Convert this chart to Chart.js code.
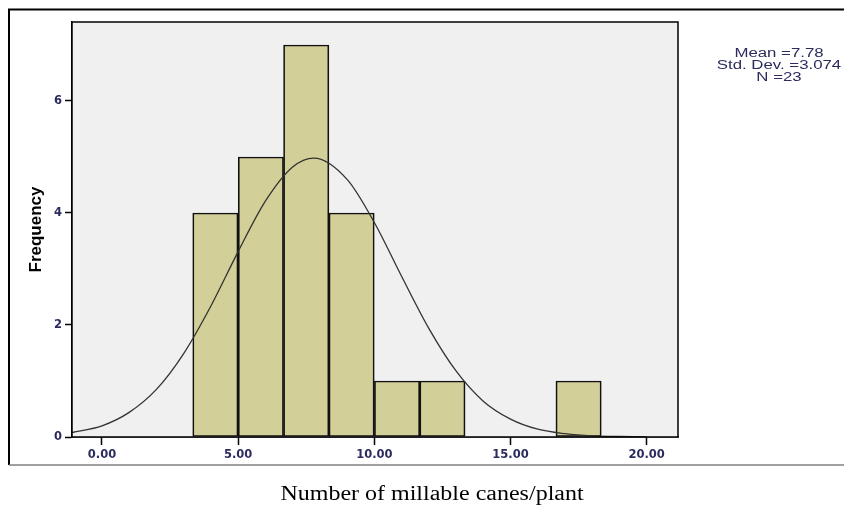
<!DOCTYPE html>
<html>
<head>
<meta charset="utf-8">
<script src="https://cdn.jsdelivr.net/npm/chart.js@4/dist/chart.umd.min.js"></script>
<style>
  html, body { margin: 0; padding: 0; background: #fff; }
  #wrap { width: 844px; height: 508px; position: relative; }
</style>
</head>
<body>
<div id="wrap"><canvas id="histChart"></canvas></div>
<script>
// Histogram bins (edges) and counts
const binEdges = [3.33, 5.00, 6.67, 8.33, 10.00, 11.67, 13.33, 15.00, 16.67, 18.33];
const binCounts = [4, 5, 7, 4, 1, 1, 0, 0, 1];

// Normal curve
const curveX = [-1.1, 0, 1, 2, 3, 4, 5, 6, 7, 7.78, 9, 10, 11, 12, 13, 14, 15, 16, 17, 18, 19, 20];
const curveY = [0.08, 0.20, 0.44, 0.85, 1.49, 2.34, 3.31, 4.21, 4.82, 4.98, 4.60, 3.83, 2.87, 1.94, 1.18, 0.64, 0.32, 0.14, 0.06, 0.02, 0.01, 0.00];

const xTickValues = [0, 5, 10, 15, 20];
const yTickValues = [0, 2, 4, 6];

const statLines = ['Mean =7.78', 'Std. Dev. =3.074', 'N =23'];
const xTitle = 'Number of millable canes/plant';
const yTitle = 'Frequency';

const barData = [];
binCounts.forEach((c, i) => {
    if (c > 0) {
        barData.push({ x: (binEdges[i] + binEdges[i + 1]) / 2, y: c });
    }
});
const curveData = curveX.map((x, i) => ({ x: x, y: curveY[i] }));

const tickColor = '#2b2b5e';
const tickFont = { family: '"DejaVu Sans", sans-serif', size: 11.5, weight: 'bold' };

// text drawn a bit stretched sideways, like the original export
function stretchedText(ctx, text, x, y, sx) {
    ctx.save();
    ctx.translate(x, y);
    ctx.scale(sx, 1);
    ctx.fillText(text, 0, 0);
    ctx.restore();
}

// Draws the grey plot background, the plot box, the outer frame and the side texts
const decorations = {
    id: 'decorations',
    beforeDatasetsDraw(chart) {
        const { ctx, chartArea: a } = chart;
        ctx.save();
        ctx.fillStyle = '#f0f0f0';
        ctx.fillRect(a.left, a.top, a.right - a.left, a.bottom - a.top);
        ctx.restore();
    },
    afterDraw(chart) {
        const { ctx, chartArea: a } = chart;
        ctx.save();
        // plot box
        ctx.strokeStyle = '#000';
        ctx.lineWidth = 1.5;
        ctx.strokeRect(a.left, a.top, a.right - a.left, a.bottom - a.top);

        // outer frame
        ctx.lineWidth = 2;
        ctx.beginPath();
        ctx.moveTo(844, 9.5);
        ctx.lineTo(9, 9.5);
        ctx.lineTo(9, 465);
        ctx.stroke();
        ctx.strokeStyle = '#808080';
        ctx.lineWidth = 1.5;
        ctx.beginPath();
        ctx.moveTo(9, 465);
        ctx.lineTo(844, 465);
        ctx.stroke();

        // stats box text
        ctx.fillStyle = tickColor;
        ctx.font = '12px "Liberation Sans", Arial, sans-serif';
        ctx.textAlign = 'center';
        ctx.textBaseline = 'middle';
        statLines.forEach((s, i) => stretchedText(ctx, s, 779, 54 + i * 12, 1.4));

        // x title (below the frame)
        ctx.fillStyle = '#000';
        ctx.textBaseline = 'alphabetic';
        ctx.font = '20px "Liberation Serif", "Times New Roman", serif';
        stretchedText(ctx, xTitle, 432, 500, 1.2);
        ctx.restore();
    }
};

const ctx = document.getElementById('histChart').getContext('2d');
const histChart = new Chart(ctx, {
    type: 'bar',
    data: {
        datasets: [
            {
                type: 'line',
                data: curveData,
                borderColor: '#333333',
                borderWidth: 1.3,
                pointRadius: 0,
                cubicInterpolationMode: 'monotone',
                fill: false,
                order: 0
            },
            {
                type: 'bar',
                data: barData,
                backgroundColor: '#d3cf98',
                borderColor: '#111111',
                borderWidth: 1.7,
                borderSkipped: false,
                barPercentage: 1,
                categoryPercentage: 1,
                order: 1
            }
        ]
    },
    options: {
        responsive: true,
        maintainAspectRatio: false,
        animation: false,
        events: [],
        layout: {
            padding: { top: 22, right: 166, left: 0, bottom: 0 }
        },
        scales: {
            x: {
                type: 'linear',
                min: -1.1,
                max: 21.15,
                offset: false,
                afterBuildTicks: scale => { scale.ticks = xTickValues.map(v => ({ value: v })); },
                afterFit: scale => { scale.height = 71; },
                grid: {
                    drawOnChartArea: false,
                    drawTicks: true,
                    tickLength: 8,
                    tickColor: '#000',
                    tickWidth: 1.5,
                    offset: false
                },
                border: { display: true, color: '#000', width: 1.5 },
                ticks: {
                    color: tickColor,
                    padding: 3,
                    maxRotation: 0,
                    font: tickFont,
                    callback: v => v.toFixed(2)
                }
            },
            y: {
                min: 0,
                max: 7.41,
                afterBuildTicks: scale => { scale.ticks = yTickValues.map(v => ({ value: v })); },
                afterFit: scale => { scale.width = 72; },
                grid: {
                    drawOnChartArea: false,
                    drawTicks: true,
                    tickLength: 7,
                    tickColor: '#000',
                    tickWidth: 1.5
                },
                border: { display: true, color: '#000', width: 1.5 },
                title: {
                    display: true,
                    text: yTitle,
                    color: '#000',
                    padding: { top: 26 },
                    font: { family: '"Liberation Sans", Arial, sans-serif', size: 17, weight: 'bold' }
                },
                ticks: {
                    color: tickColor,
                    padding: 3,
                    font: tickFont,
                    callback: v => String(v)
                }
            }
        },
        plugins: {
            legend: { display: false },
            tooltip: { enabled: false }
        }
    },
    plugins: [decorations]
});
</script>
</body>
</html>
